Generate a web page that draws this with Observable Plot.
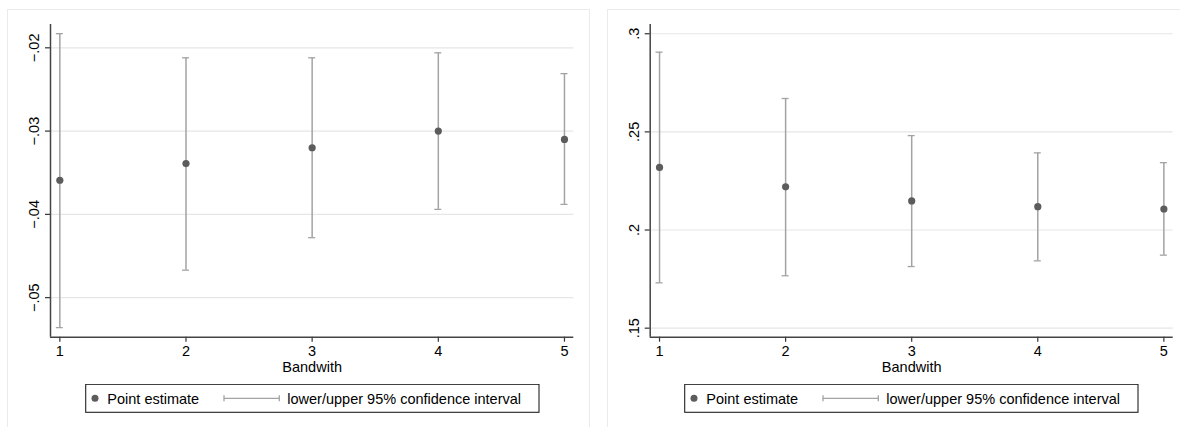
<!DOCTYPE html>
<html>
<head>
<meta charset="utf-8">
<script src="https://cdn.jsdelivr.net/npm/d3@7"></script>
<script src="https://cdn.jsdelivr.net/npm/@observablehq/plot@0.6"></script>
<style>
  html, body { margin: 0; padding: 0; background: #fff; }
  body { width: 1180px; height: 427px; position: relative; overflow: hidden; font-family: "Liberation Sans", Arial, sans-serif; }
  .panel { position: absolute; border: 1px solid #ebebeb; pointer-events: none; }
  .plotwrap { position: absolute; top: 0; }
  .legend { position: absolute; }
</style>
</head>
<body>
<div class="plotwrap" id="leftPlot" style="left:0px"></div>
<div class="plotwrap" id="rightPlot" style="left:600px"></div>
<svg class="legend" id="leftLegend" style="left:85px;top:384px" width="455" height="30"></svg>
<svg class="legend" id="rightLegend" style="left:684px;top:384px" width="455" height="30"></svg>
<div class="panel" style="left:7px;top:9px;width:581px;height:440px"></div>
<div class="panel" style="left:607px;top:9px;width:600px;height:440px"></div>
<script>
// ---- data ----
const bandwidth = [1, 2, 3, 4, 5];
const xTicks = [1, 2, 3, 4, 5];

const leftEstimate = [-0.0359, -0.0339, -0.0320, -0.0300, -0.0310];
const leftLower    = [-0.0536, -0.0467, -0.0428, -0.0394, -0.0388];
const leftUpper    = [-0.0183, -0.0212, -0.0212, -0.0206, -0.0231];
const leftYTicks   = [-0.05, -0.04, -0.03, -0.02];

const rightEstimate = [0.2319, 0.2220, 0.2148, 0.2119, 0.2107];
const rightLower    = [0.1731, 0.1767, 0.1814, 0.1843, 0.1872];
const rightUpper    = [0.2906, 0.2670, 0.2481, 0.2393, 0.2343];
const rightYTicks   = [0.15, 0.2, 0.25, 0.3];

const xLabel = "Bandwith";
const legendPoint = "Point estimate";
const legendCI = "lower/upper 95% confidence interval";

// ---- helpers ----
const FONT = "Liberation Sans, Arial, sans-serif";
const FS = 14.5;
const fmt = d => (d < 0 ? "\u2212" : "") + String(+Math.abs(d).toFixed(4)).replace(/^0/, "");

function panel(est, lo, hi, yTicks, yDomain, opts) {
  const data = bandwidth.map((b, i) => ({x: b, est: est[i], lo: lo[i], hi: hi[i]}));
  const xDomain = [0.926, 5.074];
  return Plot.plot({
    width: opts.width,
    height: 380,
    marginTop: 24,
    marginBottom: 43.3,
    marginLeft: opts.marginLeft,
    marginRight: opts.marginRight,
    style: {background: "transparent", fontFamily: FONT, fontSize: FS + "px", color: "#000", overflow: "visible"},
    x: {domain: xDomain},
    y: {domain: yDomain},
    marks: [
      Plot.gridY(yTicks, {stroke: "#e6e6e6", strokeOpacity: 1, strokeWidth: 1.2}),
      // error bars
      Plot.ruleX(data, {x: "x", y1: "lo", y2: "hi", stroke: "#a3a3a3", strokeWidth: 1.5}),
      Plot.ruleY(data, {y: "lo", x1: "x", x2: "x", insetLeft: -3.5, insetRight: -3.5, stroke: "#a3a3a3", strokeWidth: 1.3}),
      Plot.ruleY(data, {y: "hi", x1: "x", x2: "x", insetLeft: -3.5, insetRight: -3.5, stroke: "#a3a3a3", strokeWidth: 1.3}),
      Plot.dot(data, {x: "x", y: "est", r: 3.6, fill: "#5c5c5c", stroke: "none"}),
      // axes
      Plot.axisY(yTicks, {tickSize: 5, tickFormat: () => "", label: null, stroke: "#333", strokeWidth: 1.2}),
      Plot.text(yTicks, {y: d => d, frameAnchor: "left", dx: -11.5, text: fmt, rotate: -90, textAnchor: "middle", lineAnchor: "bottom", fontSize: FS, fill: "#000"}),
      Plot.axisX(xTicks, {tickSize: 5, tickPadding: 3.5, tickFormat: d => String(d), fontSize: FS, label: xLabel, labelAnchor: "center", labelOffset: 35, labelArrow: "none", stroke: "#333", strokeWidth: 1.2}),
      Plot.ruleX([xDomain[0]], {stroke: "#444", strokeWidth: 1.5}),
      Plot.ruleY([yDomain[0]], {stroke: "#444", strokeWidth: 1.5})
    ]
  });
}

document.getElementById("leftPlot").append(
  panel(leftEstimate, leftLower, leftUpper, leftYTicks, [-0.05475, -0.0172], {width: 590, marginLeft: 50, marginRight: 16.7})
);
document.getElementById("rightPlot").append(
  panel(rightEstimate, rightLower, rightUpper, rightYTicks, [0.1454, 0.3047], {width: 580, marginLeft: 49.7, marginRight: 7.3})
);

// ---- legends ----
function legend(id) {
  const svg = d3.select("#" + id);
  svg.append("rect").attr("x", 0.7).attr("y", 0.3).attr("width", 453.3).attr("height", 28)
    .attr("fill", "#fff").attr("stroke", "#222").attr("stroke-width", 1.1);
  svg.append("circle").attr("cx", 10).attr("cy", 14.3).attr("r", 3.5).attr("fill", "#5c5c5c");
  svg.append("text").attr("x", 22.3).attr("y", 20.3).attr("font-family", FONT).attr("font-size", FS).text(legendPoint);
  const x1 = 139, x2 = 194.3, y = 14.3;
  svg.append("line").attr("x1", x1).attr("x2", x2).attr("y1", y).attr("y2", y).attr("stroke", "#a3a3a3").attr("stroke-width", 1.3);
  svg.append("line").attr("x1", x1).attr("x2", x1).attr("y1", y - 3).attr("y2", y + 3).attr("stroke", "#a3a3a3").attr("stroke-width", 1.3);
  svg.append("line").attr("x1", x2).attr("x2", x2).attr("y1", y - 3).attr("y2", y + 3).attr("stroke", "#a3a3a3").attr("stroke-width", 1.3);
  svg.append("text").attr("x", 202.3).attr("y", 20.3).attr("font-family", FONT).attr("font-size", FS).text(legendCI);
}
legend("leftLegend");
legend("rightLegend");
</script>
</body>
</html>
